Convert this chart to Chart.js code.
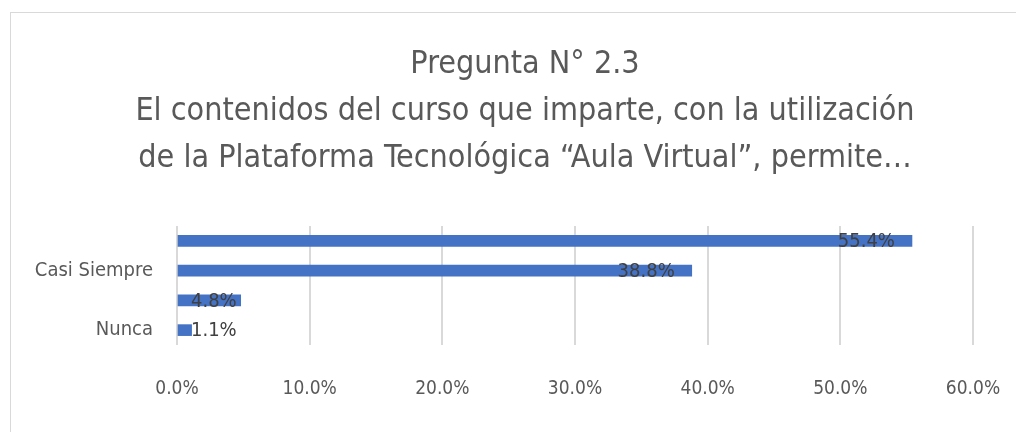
<!DOCTYPE html>
<html>
<head>
<meta charset="utf-8">
<script src="https://cdn.jsdelivr.net/npm/chart.js@4"></script>
<style>
  html, body { margin: 0; padding: 0; background: #fff; }
  .wrap { position: relative; width: 1016px; height: 432px; overflow: hidden; }
  .frame { position: absolute; left: 10px; top: 12px; width: 1100px; height: 500px; border: 1px solid #d9d9d9; }
  canvas { position: absolute; left: 0; top: 0; }
</style>
</head>
<body>
<div class="wrap">
  <div class="frame"></div>
  <canvas id="chart" width="1016" height="432"></canvas>
</div>
<script>
const titleLines = ['Pregunta N° 2.3', 'El contenidos del curso que imparte, con la utilización', 'de la Plataforma Tecnológica “Aula Virtual”, permite…'];
const categories = ['Siempre', 'Casi Siempre', 'A veces', 'Nunca'];
const percents = [55.4, 38.8, 4.8, 1.1];
const xTicks = [0, 10, 20, 30, 40, 50, 60];

const fontFamily = '"Liberation Sans Narrow", "DejaVu Sans Condensed", "Open Sans", sans-serif';

// title drawn by hand so the three lines sit where the original has them
const titlePlugin = {
    id: 'titleLines',
    afterDraw(chart) {
        const ctx = chart.ctx;
        ctx.save();
        ctx.fillStyle = '#595959';
        ctx.font = '32px ' + fontFamily;
        ctx.textAlign = 'center';
        ctx.textBaseline = 'middle';
        const ys = [65, 112, 159];
        titleLines.forEach((t, i) => ctx.fillText(t, 525, ys[i]));
        ctx.restore();
    }
};

// value labels: inside end of the bar, pushed right when the bar is too short
const valueLabels = {
    id: 'valueLabels',
    afterDatasetsDraw(chart) {
        const ctx = chart.ctx;
        const meta = chart.getDatasetMeta(0);
        ctx.save();
        ctx.fillStyle = '#404040';
        ctx.font = '20px ' + fontFamily;
        ctx.textBaseline = 'middle';
        ctx.textAlign = 'left';
        meta.data.forEach((bar, i) => {
            const text = percents[i].toFixed(1) + '%';
            const w = ctx.measureText(text).width;
            let left = bar.x - 17 - w;
            if (left < bar.base + 13) left = bar.base + 13;
            ctx.fillText(text, left, bar.y + 1);
        });
        ctx.restore();
    }
};

new Chart(document.querySelector('#chart'), {
    type: 'bar',
    data: {
        labels: categories,
        datasets: [{
            data: percents,
            backgroundColor: '#4472c4',
            barThickness: 11,
        }]
    },
    options: {
        indexAxis: 'y',
        responsive: false,
        animation: false,
        layout: { padding: { left: 0, right: 43, top: 226, bottom: 0 } },
        plugins: {
            legend: { display: false },
            tooltip: { enabled: false },
            title: { display: false },
        },
        scales: {
            x: {
                min: 0,
                max: 60,
                afterBuildTicks: (axis) => { axis.ticks = xTicks.map(v => ({ value: v })); },
                afterFit: (axis) => {
                    axis.height = 87;
                    axis.paddingLeft = 0;
                    axis.paddingRight = 0;
                },
                border: { display: false },
                grid: { color: '#d9d9d9', lineWidth: 2, drawTicks: false },
                ticks: {
                    padding: 33,
                    color: '#595959',
                    font: { family: fontFamily, size: 19 },
                    callback: (v) => Number(v).toFixed(1) + '%',
                }
            },
            y: {
                afterFit: (axis) => { axis.width = 177; },
                border: { display: false },
                grid: { display: false, drawTicks: false },
                ticks: {
                    padding: 24,
                    autoSkip: false,
                    color: '#595959',
                    font: { family: fontFamily, size: 20 },
                    // only every other category is labelled, like the original
                    callback: (v, i) => (i % 2 === 1 ? categories[i] : ''),
                }
            }
        }
    },
    plugins: [titlePlugin, valueLabels]
});
</script>
</body>
</html>
